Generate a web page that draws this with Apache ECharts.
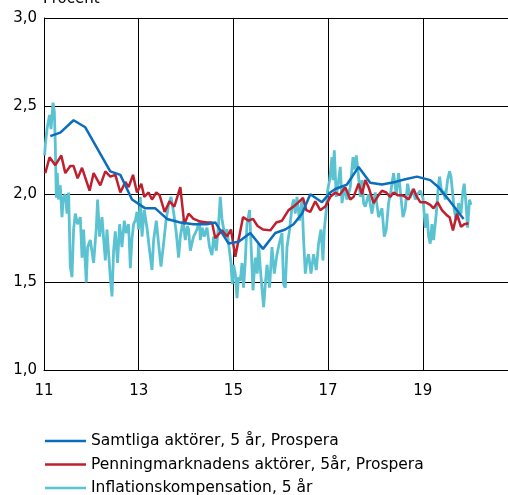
<!DOCTYPE html>
<html>
<head>
<meta charset="utf-8">
<script src="https://cdn.jsdelivr.net/npm/echarts@6.0.0/dist/echarts.min.js"></script>
<style>
  html, body { margin: 0; padding: 0; background: #fff; }
  #chart { width: 508px; height: 495px; }
</style>
</head>
<body>
<div id="chart"></div>
<script>
// [år, procent]
const samtliga = [
  [11.133, 2.33], [11.344, 2.35], [11.625, 2.42], [11.872, 2.38], [12.400, 2.13],
  [12.612, 2.11], [12.859, 1.97], [13.139, 1.92], [13.351, 1.92], [13.598, 1.86],
  [13.879, 1.84], [14.159, 1.83], [14.442, 1.83], [14.618, 1.84], [14.899, 1.72],
  [15.110, 1.73], [15.357, 1.78], [15.625, 1.69], [15.885, 1.78], [16.096, 1.80],
  [16.271, 1.83], [16.449, 1.89], [16.624, 2.00], [16.871, 1.955], [17.046, 2.01],
  [17.152, 2.03], [17.399, 2.055], [17.644, 2.155], [17.891, 2.065], [18.138, 2.055],
  [18.419, 2.07], [18.631, 2.085], [18.877, 2.10], [19.158, 2.08], [19.334, 2.04],
  [19.545, 1.97], [19.862, 1.86]
]

const penningmarknad = [
  [11.027, 2.12], [11.118, 2.21], [11.239, 2.165], [11.365, 2.22], [11.450, 2.12],
  [11.555, 2.16], [11.625, 2.16], [11.710, 2.09], [11.803, 2.15], [11.963, 2.02],
  [12.048, 2.12], [12.189, 2.05], [12.295, 2.13], [12.401, 2.10], [12.507, 2.11],
  [12.612, 2.01], [12.718, 2.07], [12.787, 2.04], [12.880, 2.11], [12.964, 2.01],
  [13.055, 2.06], [13.118, 1.985], [13.209, 2.01], [13.281, 1.97], [13.372, 2.01],
  [13.441, 1.995], [13.547, 1.90], [13.653, 1.96], [13.752, 1.93], [13.879, 2.04],
  [13.963, 1.83], [14.054, 1.89], [14.159, 1.86], [14.301, 1.845], [14.442, 1.84],
  [14.548, 1.84], [14.618, 1.75], [14.759, 1.795], [14.865, 1.76], [14.949, 1.80],
  [15.040, 1.645], [15.203, 1.87], [15.321, 1.85], [15.414, 1.86], [15.511, 1.82],
  [15.625, 1.80], [15.779, 1.795], [15.906, 1.84], [16.026, 1.85], [16.096, 1.88],
  [16.166, 1.91], [16.271, 1.93], [16.377, 1.955], [16.470, 1.98], [16.540, 1.91],
  [16.624, 1.90], [16.730, 1.96], [16.835, 1.91], [16.941, 1.93], [17.046, 1.985],
  [17.152, 2.01], [17.243, 1.995], [17.363, 2.04], [17.469, 1.97], [17.539, 1.985],
  [17.644, 2.06], [17.716, 2.00], [17.786, 2.08], [17.855, 2.04], [17.961, 1.95],
  [18.067, 1.995], [18.138, 2.02], [18.229, 2.01], [18.313, 1.985], [18.383, 2.01],
  [18.468, 1.995], [18.561, 1.995], [18.631, 1.985], [18.700, 1.97], [18.806, 2.03],
  [18.877, 1.985], [18.947, 1.955], [19.052, 1.955], [19.158, 1.94], [19.228, 1.92],
  [19.312, 1.955], [19.405, 1.91], [19.511, 1.88], [19.566, 1.87], [19.638, 1.795],
  [19.722, 1.89], [19.807, 1.815], [19.876, 1.83], [19.967, 1.835]
]

const inflationskomp = [
  [11.013, 2.22], [11.027, 2.28], [11.063, 2.37], [11.118, 2.45], [11.148, 2.37],
  [11.190, 2.52], [11.218, 2.47], [11.239, 2.28], [11.260, 1.98], [11.281, 2.12],
  [11.308, 1.97], [11.344, 2.05], [11.380, 1.87], [11.408, 1.98], [11.450, 2.00],
  [11.486, 1.89], [11.520, 2.01], [11.555, 1.59], [11.591, 1.53], [11.625, 1.80],
  [11.661, 1.89], [11.710, 1.83], [11.767, 1.87], [11.803, 1.64], [11.836, 1.80],
  [11.893, 1.50], [11.921, 1.70], [11.978, 1.74], [12.048, 1.61], [12.105, 1.81],
  [12.132, 1.97], [12.174, 1.76], [12.225, 1.87], [12.295, 1.625], [12.330, 1.80],
  [12.400, 1.53], [12.436, 1.42], [12.470, 1.68], [12.506, 1.79], [12.554, 1.61],
  [12.597, 1.83], [12.647, 1.70], [12.696, 1.85], [12.738, 1.78], [12.787, 1.83],
  [12.823, 1.58], [12.859, 1.75], [12.892, 1.83], [12.928, 1.85], [12.964, 1.90],
  [12.998, 1.80], [13.034, 1.985], [13.070, 1.76], [13.118, 1.91], [13.175, 1.81],
  [13.230, 1.68], [13.281, 1.57], [13.315, 1.74], [13.372, 1.85], [13.420, 1.72],
  [13.471, 1.59], [13.526, 1.72], [13.577, 1.85], [13.631, 1.94], [13.682, 1.985],
  [13.737, 1.90], [13.794, 1.78], [13.843, 1.64], [13.879, 1.76], [13.936, 1.85],
  [13.984, 1.74], [14.026, 1.82], [14.054, 1.80], [14.090, 1.68], [14.159, 1.76],
  [14.231, 1.80], [14.286, 1.85], [14.301, 1.74], [14.343, 1.81], [14.385, 1.76],
  [14.442, 1.81], [14.497, 1.70], [14.548, 1.655], [14.582, 1.76], [14.639, 1.68],
  [14.687, 1.83], [14.723, 1.985], [14.759, 1.86], [14.808, 1.78], [14.865, 1.80],
  [14.899, 1.72], [14.949, 1.61], [14.977, 1.49], [15.004, 1.60], [15.040, 1.55],
  [15.076, 1.41], [15.110, 1.53], [15.146, 1.51], [15.182, 1.61], [15.215, 1.47],
  [15.251, 1.62], [15.287, 1.83], [15.342, 1.91], [15.372, 1.72], [15.414, 1.455],
  [15.462, 1.64], [15.505, 1.55], [15.532, 1.72], [15.568, 1.58], [15.638, 1.36],
  [15.674, 1.49], [15.710, 1.60], [15.764, 1.47], [15.815, 1.70], [15.864, 1.55],
  [15.921, 1.66], [15.969, 1.72], [16.026, 1.78], [16.060, 1.49], [16.096, 1.47],
  [16.132, 1.70], [16.187, 1.80], [16.238, 1.93], [16.271, 1.97], [16.307, 1.89],
  [16.343, 1.985], [16.398, 1.85], [16.449, 1.97], [16.483, 1.74], [16.519, 1.55],
  [16.550, 1.62], [16.588, 1.66], [16.639, 1.55], [16.694, 1.66], [16.751, 1.57],
  [16.799, 1.72], [16.850, 1.80], [16.892, 1.625], [16.920, 1.80], [16.962, 1.91],
  [16.989, 2.02], [17.032, 2.08], [17.082, 2.21], [17.103, 2.08], [17.131, 2.25],
  [17.173, 1.985], [17.222, 2.08], [17.258, 2.155], [17.294, 1.95], [17.342, 2.04],
  [17.399, 1.97], [17.469, 2.04], [17.526, 2.21], [17.553, 2.14], [17.596, 2.22],
  [17.644, 2.10], [17.680, 1.985], [17.716, 2.08], [17.750, 1.95], [17.786, 1.93],
  [17.855, 2.00], [17.927, 1.89], [17.997, 2.01], [18.067, 1.87], [18.138, 1.92],
  [18.187, 1.76], [18.229, 1.80], [18.278, 1.95], [18.328, 2.02], [18.383, 2.12],
  [18.440, 2.00], [18.489, 2.12], [18.525, 2.02], [18.582, 1.87], [18.630, 1.92],
  [18.679, 2.06], [18.736, 1.98], [18.793, 2.03], [18.842, 1.97], [18.890, 2.00],
  [18.947, 2.02], [19.004, 1.98], [19.053, 1.81], [19.089, 1.89], [19.123, 1.76],
  [19.158, 1.72], [19.194, 1.83], [19.228, 1.74], [19.285, 1.89], [19.334, 2.06],
  [19.355, 2.10], [19.405, 2.00], [19.439, 2.02], [19.475, 1.97], [19.524, 2.08],
  [19.566, 2.13], [19.596, 2.10], [19.638, 1.985], [19.665, 1.91], [19.707, 1.85],
  [19.756, 1.95], [19.807, 1.89], [19.849, 2.02], [19.876, 2.06], [19.918, 1.93],
  [19.946, 1.81], [19.988, 1.97], [20.018, 1.94]
]

const seriesNames = [
  'Samtliga aktörer, 5 år, Prospera',
  'Penningmarknadens aktörer, 5år, Prospera',
  'Inflationskompensation, 5 år'
]
const xTicks = [11, 13, 15, 17, 19]

const font = 'DejaVu Sans'
const chart = echarts.init(document.getElementById('chart'), null, { renderer: 'canvas' })

chart.setOption({
  animation: false,
  backgroundColor: '#fff',
  textStyle: { fontFamily: font, color: '#000' },
  graphic: [{
    type: 'text',
    x: 43,
    y: 0,
    style: {
      text: 'Procent', x: 0, y: 7,
      font: '15px "DejaVu Sans"', fill: '#000',
      verticalAlign: 'bottom'
    }
  }],
  grid: { left: 44, right: 0, top: 18, bottom: 124.5, containLabel: false },
  xAxis: {
    type: 'value',
    min: 11,
    max: 20.8,
    interval: 2,
    axisLine: { show: true, lineStyle: { color: '#000', width: 1 } },
    axisTick: { show: false },
    splitLine: { show: true, lineStyle: { color: '#000', width: 1 } },
    axisLabel: {
      color: '#000', fontFamily: font, fontSize: 15, margin: 13,
      showMaxLabel: false,
      formatter: v => (xTicks.includes(v) ? String(v) : '')
    }
  },
  yAxis: {
    type: 'value',
    min: 1,
    max: 3,
    interval: 0.5,
    axisLine: { show: true, lineStyle: { color: '#000', width: 1 } },
    axisTick: { show: false },
    splitLine: { show: true, lineStyle: { color: '#000', width: 1 } },
    axisLabel: {
      color: '#000', fontFamily: font, fontSize: 15, margin: 7,
      formatter: v => v.toFixed(1).replace('.', ',')
    }
  },
  legend: {
    orient: 'vertical',
    left: 45,
    top: 433,
    padding: 0,
    height: 120,
    icon: 'rect',
    itemWidth: 41,
    itemHeight: 2.5,
    itemGap: 7.5,
    textStyle: { fontFamily: font, fontSize: 15.5, color: '#000', lineHeight: 16 },
    data: seriesNames
  },
  series: [
    {
      name: seriesNames[2],
      type: 'line',
      data: inflationskomp,
      symbol: 'none',
      lineStyle: { color: '#5bc2d2', width: 2.8 },
      itemStyle: { color: '#5bc2d2' },
      z: 1
    },
    {
      name: seriesNames[1],
      type: 'line',
      data: penningmarknad,
      symbol: 'none',
      lineStyle: { color: '#c01f2e', width: 2.5 },
      itemStyle: { color: '#c01f2e' },
      z: 2
    },
    {
      name: seriesNames[0],
      type: 'line',
      data: samtliga,
      symbol: 'none',
      lineStyle: { color: '#0a6ebd', width: 2.5 },
      itemStyle: { color: '#0a6ebd' },
      z: 3
    }
  ]
})
</script>
</body>
</html>
